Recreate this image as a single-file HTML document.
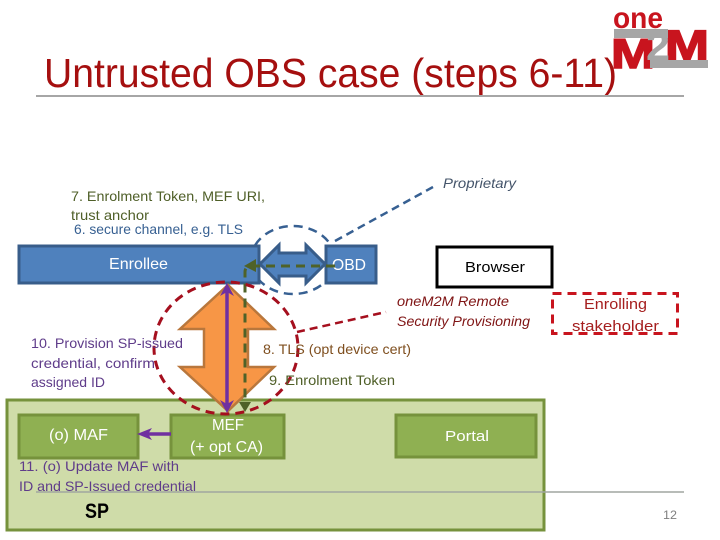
<!DOCTYPE html>
<html><head><meta charset="utf-8"><style>
html,body{margin:0;padding:0;background:#fff}
svg{display:block}
text{font-family:"Liberation Sans",sans-serif}
</style></head><body>
<svg width="720" height="540" viewBox="0 0 720 540" xmlns="http://www.w3.org/2000/svg">
<rect width="720" height="540" fill="#fff"/>
<!-- logo -->
<text x="613" y="28" font-size="30" font-weight="bold" fill="#c8141e" textLength="50" lengthAdjust="spacingAndGlyphs">one</text>
<text x="611" y="68" font-size="42" font-weight="bold" fill="#c8141e" stroke="#c8141e" stroke-width="1.5" textLength="44" lengthAdjust="spacingAndGlyphs">M</text>
<text x="665" y="60" font-size="43" font-weight="bold" fill="#c8141e" stroke="#c8141e" stroke-width="1.5" textLength="44" lengthAdjust="spacingAndGlyphs">M</text>
<rect x="614" y="29" width="54" height="9" fill="#a6a6a6"/>
<rect x="650" y="60" width="58" height="8" fill="#a6a6a6"/>
<text x="646" y="60" font-size="40" font-weight="bold" fill="#a6a6a6" textLength="24" lengthAdjust="spacingAndGlyphs">2</text>
<!-- title -->
<text x="44" y="87" font-size="41" fill="#a50f0f" textLength="573" lengthAdjust="spacingAndGlyphs">Untrusted OBS case (steps 6-11)</text>
<line x1="36" y1="96" x2="684" y2="96" stroke="#a6a6a6" stroke-width="2"/>
<!-- SP -->
<rect x="7" y="400" width="537" height="130" fill="#cfdca9" stroke="#76923c" stroke-width="3"/>
<line x1="36" y1="492" x2="684" y2="492" stroke="#a0a6a0" stroke-width="1.5"/>
<text x="663" y="519" font-size="12" fill="#7f7f7f" textLength="14" lengthAdjust="spacingAndGlyphs">12</text>
<!-- blue dashed ellipse + leader -->
<ellipse cx="293" cy="260" rx="42" ry="34" fill="none" stroke="#376092" stroke-width="2.5" stroke-dasharray="9 6"/>
<line x1="335" y1="241" x2="433" y2="187" stroke="#376092" stroke-width="2.5" stroke-dasharray="8 5"/>
<!-- Enrollee / OBD -->
<rect x="19" y="246" width="240" height="37" fill="#4f81bd" stroke="#385d8a" stroke-width="3"/>
<rect x="326" y="246" width="50" height="37" fill="#4f81bd" stroke="#385d8a" stroke-width="3"/>
<polygon points="260,264 279,245 279,253 306,253 306,245 325,264 306,283 306,276 279,276 279,283" fill="#4f81bd" stroke="#385d8a" stroke-width="3" stroke-linejoin="miter"/>
<text x="109" y="269" font-size="16" fill="#fff" textLength="59" lengthAdjust="spacingAndGlyphs">Enrollee</text>
<text x="332" y="270" font-size="16" fill="#fff" textLength="34" lengthAdjust="spacingAndGlyphs">OBD</text>
<!-- orange arrow -->
<polygon points="228,285 274,329 248,329 248,367 274,367 228,411 180,367 204,367 204,329 180,329" fill="#f79646" stroke="#b9773c" stroke-width="2.5"/>
<!-- green dashed -->
<path d="M335,266 H252 Q245,266 245,272 V404" fill="none" stroke="#4f6228" stroke-width="3" stroke-dasharray="9 6"/>
<polygon points="244,266 256,259 256,272" fill="#4f6228"/>
<polygon points="245,412 239,402 251,402" fill="#4f6228"/>
<!-- purple -->
<line x1="227" y1="290" x2="227" y2="408" stroke="#7030a0" stroke-width="3.5"/>
<polygon points="227,283 220,296 227,292 234,296" fill="#7030a0"/>
<polygon points="227,413 220,400 227,404 234,400" fill="#7030a0"/>
<!-- boxes -->
<rect x="19" y="415" width="119" height="43" fill="#8fb052" stroke="#76923c" stroke-width="3"/>
<rect x="171" y="415" width="113" height="43" fill="#8fb052" stroke="#76923c" stroke-width="3"/>
<rect x="396" y="415" width="140" height="42" fill="#8fb052" stroke="#76923c" stroke-width="3"/>
<line x1="146" y1="434" x2="171" y2="434" stroke="#7030a0" stroke-width="3.5"/>
<polygon points="137,434 152,428 148,434 152,440" fill="#7030a0"/>
<!-- red dashed ellipse + leader -->
<ellipse cx="226" cy="348" rx="72" ry="66" fill="none" stroke="#a50f1e" stroke-width="3" stroke-dasharray="9 6"/>
<line x1="297" y1="332" x2="386" y2="312" stroke="#a50f1e" stroke-width="2.5" stroke-dasharray="8 5"/>
<!-- Browser -->
<rect x="437" y="247" width="115" height="40" fill="#fff" stroke="#000" stroke-width="3"/>
<text x="465" y="272" font-size="15" fill="#000" textLength="60" lengthAdjust="spacingAndGlyphs">Browser</text>
<!-- stakeholder -->
<rect x="552.500" y="293.500" width="125" height="40" fill="none" stroke="#c8141e" stroke-width="3" stroke-dasharray="9 6"/>
<text x="584" y="309" font-size="15" fill="#a51e1e" textLength="63" lengthAdjust="spacingAndGlyphs">Enrolling</text>
<text x="572" y="331" font-size="15" fill="#a51e1e" textLength="87" lengthAdjust="spacingAndGlyphs">stakeholder</text>
<!-- labels -->
<text x="443" y="188" font-size="14" font-style="italic" fill="#44546a" textLength="73" lengthAdjust="spacingAndGlyphs">Proprietary</text>
<text x="71" y="201" font-size="14" fill="#4f5f28" textLength="194" lengthAdjust="spacingAndGlyphs">7. Enrolment Token, MEF URI,</text>
<text x="71" y="220" font-size="14" fill="#4f5f28" textLength="78" lengthAdjust="spacingAndGlyphs">trust anchor</text>
<text x="74" y="234" font-size="14" fill="#376092" textLength="169" lengthAdjust="spacingAndGlyphs">6. secure channel, e.g. TLS</text>
<text x="397" y="306" font-size="14" font-style="italic" fill="#7f1414" textLength="112" lengthAdjust="spacingAndGlyphs">oneM2M Remote</text>
<text x="397" y="326" font-size="14" font-style="italic" fill="#7f1414" textLength="133" lengthAdjust="spacingAndGlyphs">Security Provisioning</text>
<text x="31" y="348" font-size="14" fill="#5f3c8a" textLength="152" lengthAdjust="spacingAndGlyphs">10. Provision  SP-issued</text>
<text x="31" y="368" font-size="14" fill="#5f3c8a" textLength="124" lengthAdjust="spacingAndGlyphs">credential, confirm</text>
<text x="31" y="387" font-size="14" fill="#5f3c8a" textLength="74" lengthAdjust="spacingAndGlyphs">assigned ID</text>
<text x="263" y="354" font-size="14" fill="#7f4f1f" textLength="148" lengthAdjust="spacingAndGlyphs">8. TLS (opt device cert)</text>
<text x="269" y="385" font-size="14" fill="#4f5f28" textLength="126" lengthAdjust="spacingAndGlyphs">9. Enrolment Token</text>
<text x="49" y="440" font-size="16" fill="#fff" textLength="59" lengthAdjust="spacingAndGlyphs">(o) MAF</text>
<text x="212" y="430" font-size="16" fill="#fff" textLength="32" lengthAdjust="spacingAndGlyphs">MEF</text>
<text x="190" y="452" font-size="16" fill="#fff" textLength="73" lengthAdjust="spacingAndGlyphs">(+ opt CA)</text>
<text x="445" y="441" font-size="15" fill="#fff" textLength="44" lengthAdjust="spacingAndGlyphs">Portal</text>
<text x="19" y="471" font-size="14" fill="#5f3c8a" textLength="160" lengthAdjust="spacingAndGlyphs">11. (o) Update MAF with</text>
<text x="19" y="491" font-size="14" fill="#5f3c8a" textLength="177" lengthAdjust="spacingAndGlyphs">ID and SP-Issued credential</text>
<text x="85" y="518" font-size="21" font-weight="bold" fill="#000" textLength="24" lengthAdjust="spacingAndGlyphs">SP</text>
</svg>
</body></html>
